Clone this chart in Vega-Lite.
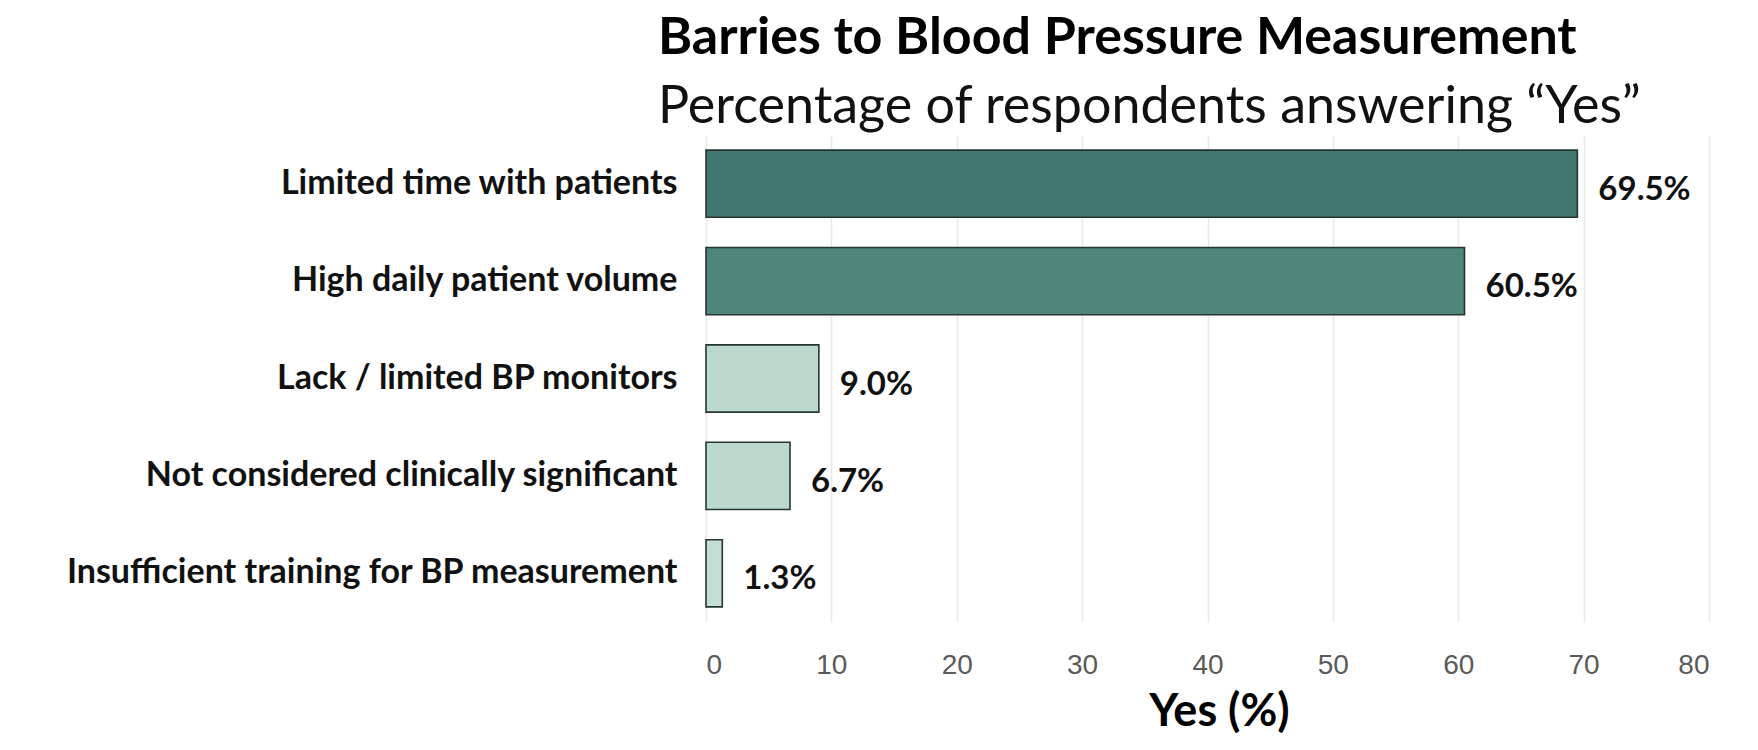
{
  "$schema": "https://vega.github.io/schema/vega-lite/v6.json",
  "autosize": "none",
  "width": 1003,
  "height": 487,
  "padding": {"left": 706, "top": 135, "right": 49, "bottom": 128},
  "background": "white",
  "title": {
    "text": "Barries to Blood Pressure Measurement",
    "subtitle": "Percentage of respondents answering “Yes”",
    "anchor": "start",
    "frame": "group",
    "dx": -48,
    "offset": 1,
    "font": "Lato",
    "fontSize": 52,
    "fontWeight": "bold",
    "color": "#000000",
    "subtitleFont": "Lato",
    "subtitleFontSize": 52,
    "subtitleColor": "#111111",
    "subtitlePadding": 17
  },
  "data": {
    "values": [
      {"barrier": "Limited time with patients", "yes": 69.5, "label": "69.5%"},
      {"barrier": "High daily patient volume", "yes": 60.5, "label": "60.5%"},
      {"barrier": "Lack / limited BP monitors", "yes": 9.0, "label": "9.0%"},
      {"barrier": "Not considered clinically significant", "yes": 6.7, "label": "6.7%"},
      {"barrier": "Insufficient training for BP measurement", "yes": 1.3, "label": "1.3%"}
    ]
  },
  "encoding": {
    "y": {
      "field": "barrier",
      "type": "nominal",
      "sort": null,
      "scale": {"paddingInner": 0.31, "paddingOuter": 0.155},
      "axis": {
        "title": null,
        "domain": false,
        "ticks": false,
        "labelPadding": 29,
        "labelFont": "Lato",
        "labelFontSize": 34,
        "labelFontWeight": "bold",
        "labelColor": "#111111",
        "labelLimit": 700
      }
    },
    "x": {
      "field": "yes",
      "type": "quantitative",
      "scale": {"domain": [0, 80], "nice": false},
      "axis": {
        "title": "Yes (%)",
        "titleX": 513,
        "values": [0, 10, 20, 30, 40, 50, 60, 70, 80],
        "domain": false,
        "ticks": false,
        "grid": true,
        "gridColor": "#e8e8e8",
        "gridWidth": 1.5,
        "labelPadding": 29,
        "labelFont": "Liberation Sans Narrow, Liberation Sans",
        "labelFontSize": 28,
        "labelColor": "#5a5a5a",
        "titleFont": "Lato",
        "titleFontSize": 45,
        "titleFontWeight": "bold",
        "titleColor": "#000000",
        "titlePadding": 10
      }
    }
  },
  "layer": [
    {
      "mark": {"type": "bar", "stroke": "#263632", "strokeWidth": 1.6},
      "encoding": {
        "color": {
          "field": "barrier",
          "type": "nominal",
          "sort": null,
          "scale": {"range": ["#41756f", "#50857b", "#bcd9cd", "#bcd9cd", "#c4ded3"]},
          "legend": null
        }
      }
    },
    {
      "mark": {
        "type": "text",
        "align": "left",
        "baseline": "middle",
        "dx": 21,
        "dy": 6,
        "font": "Lato",
        "fontSize": 33,
        "fontWeight": "bold",
        "color": "#111111"
      },
      "encoding": {"text": {"field": "label"}}
    }
  ],
  "config": {"view": {"stroke": null}}
}
